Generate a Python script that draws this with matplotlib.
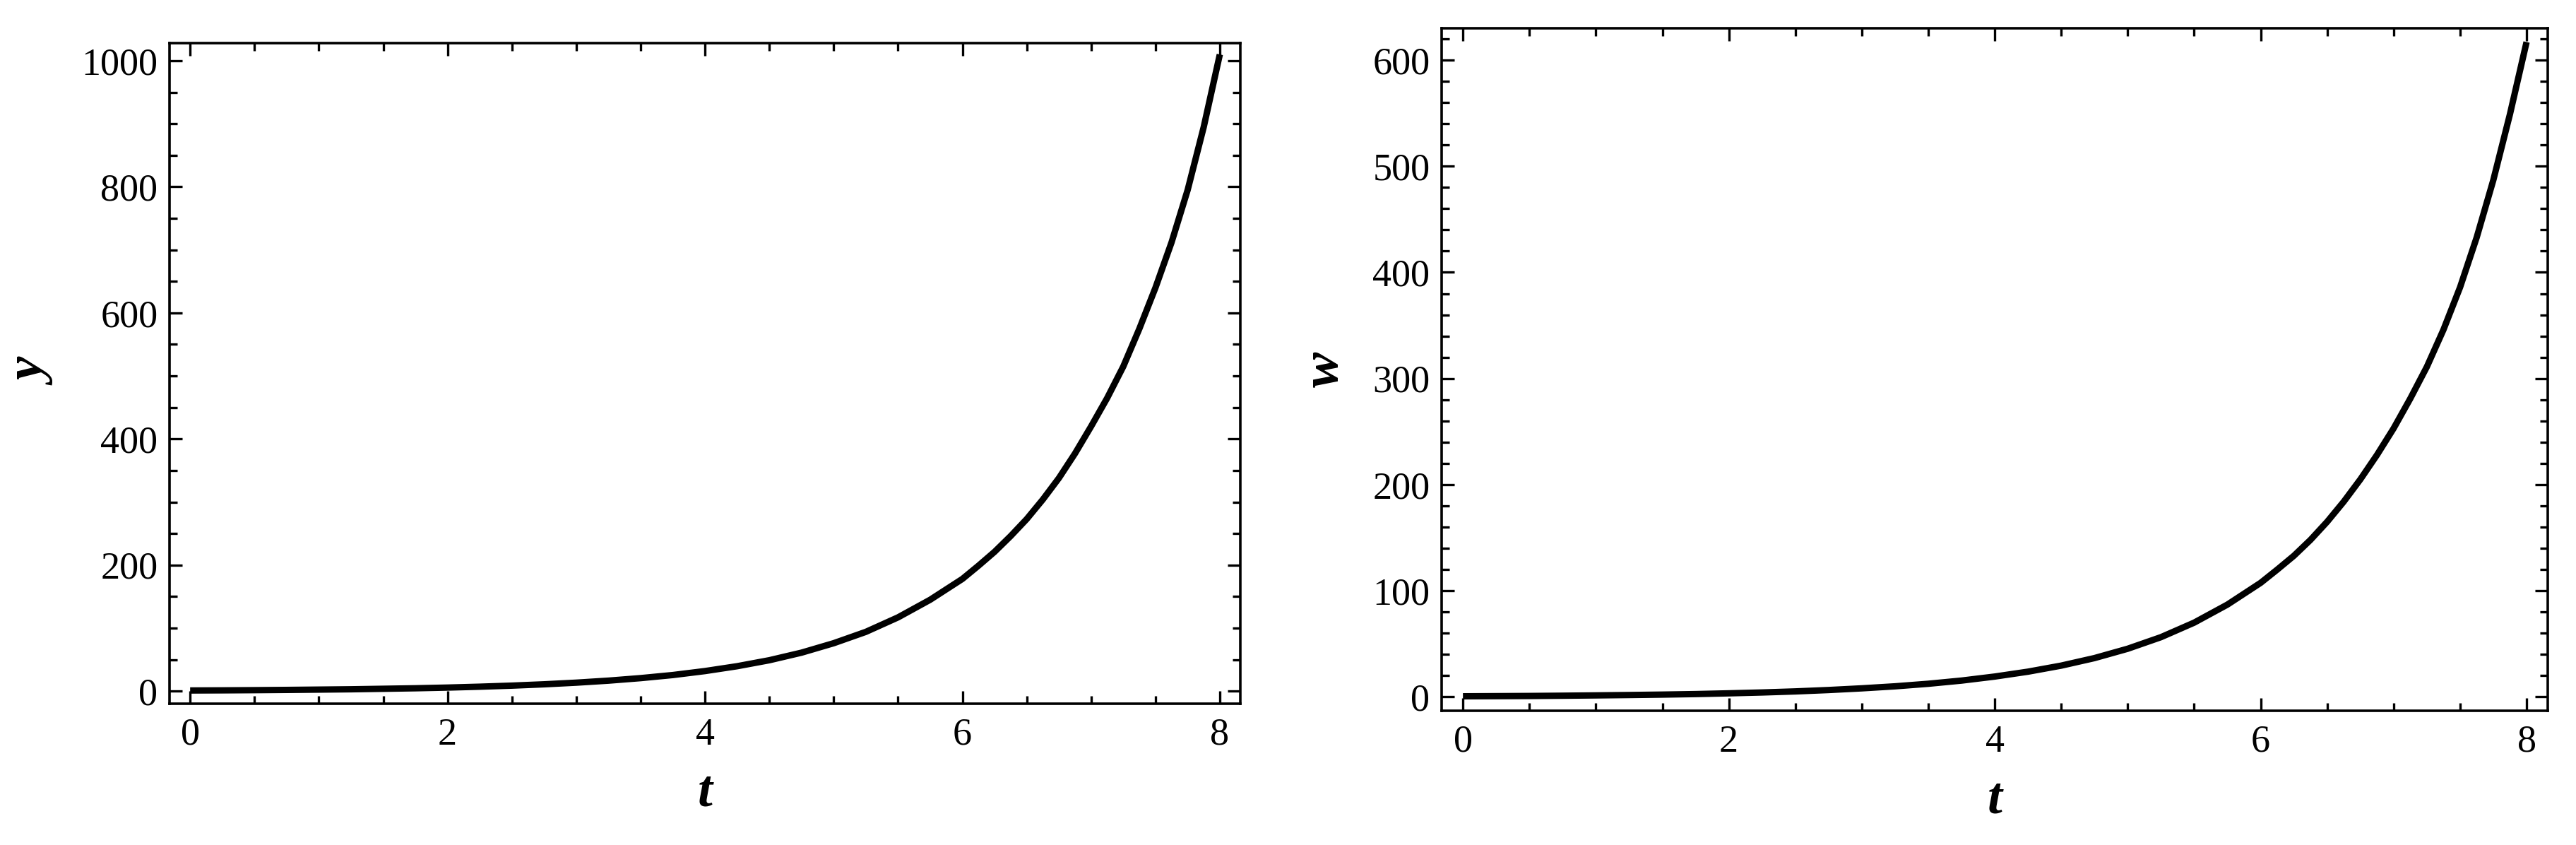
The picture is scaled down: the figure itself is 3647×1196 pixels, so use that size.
import matplotlib
matplotlib.use("Agg")
import matplotlib.pyplot as plt
from matplotlib.ticker import MultipleLocator

# values (finer steps where the curve bends fast)
t = [0, 0.25, 0.5, 0.75, 1, 1.25, 1.5, 1.75, 2, 2.25, 2.5, 2.75, 3, 3.25, 3.5, 3.75,
     4, 4.25, 4.5, 4.75, 5, 5.25, 5.5, 5.75, 6, 6.125, 6.25, 6.375, 6.5, 6.625, 6.75,
     6.875, 7, 7.125, 7.25, 7.375, 7.5, 7.625, 7.75, 7.875, 8]
y = [1.0, 1.2, 1.5, 1.9, 2.4, 2.9, 3.7, 4.5, 5.6, 7.0, 8.7, 10.8, 13.4, 16.6, 20.6, 25.5,
     31.8, 39.5, 49, 61, 76, 94, 117, 145, 178, 199, 221, 246, 273, 304, 338,
     377, 420, 465, 515, 575, 640, 712, 795, 895, 1010]
w = [0.6, 0.75, 0.9, 1.15, 1.45, 1.8, 2.2, 2.7, 3.4, 4.2, 5.2, 6.5, 8.1, 10.0, 12.4, 15.4,
     19.2, 23.8, 29.5, 36.6, 45.4, 56.3, 70, 87, 107.5, 120, 133, 148, 165, 184, 205,
     228, 253, 281, 311, 346, 386, 433, 487, 549, 617]

xticks = [0, 2, 4, 6, 8]
yticks_left = [0, 200, 400, 600, 800, 1000]
yticks_right = [0, 100, 200, 300, 400, 500, 600]

plt.rcParams['font.family'] = ['Liberation Serif', 'DejaVu Serif']

fig = plt.figure(figsize=(36.48, 11.96), dpi=100)
ax1 = fig.add_axes([0.0658, 0.1672, 0.4156, 0.7818])
ax2 = fig.add_axes([0.5595, 0.1589, 0.4293, 0.8077])


def style(ax, vals, yticks, yminor, ylim, ylabel):
    ax.plot(t, vals, color='black', lw=6.5, solid_capstyle='butt',
            solid_joinstyle='round')
    ax.set_xlim(-0.16, 8.16)
    ax.set_ylim(*ylim)
    ax.set_xticks(xticks)
    ax.set_yticks(yticks)
    ax.xaxis.set_minor_locator(MultipleLocator(0.5))
    ax.yaxis.set_minor_locator(MultipleLocator(yminor))
    ax.tick_params(which='both', direction='in', top=True, right=True,
                   labeltop=False, labelright=False, width=2.4, labelsize=39)
    ax.tick_params(which='major', length=13)
    ax.tick_params(which='minor', length=8)
    ax.tick_params(axis='x', pad=14)
    ax.tick_params(axis='y', pad=12)
    for s in ax.spines.values():
        s.set_linewidth(2.6)
    ax.set_xlabel('t', fontsize=54, fontweight='bold', fontstyle='italic', labelpad=16)
    ax.set_ylabel(ylabel, fontsize=54, fontweight='bold', fontstyle='italic', labelpad=24)


style(ax1, y, yticks_left, 50, (-20, 1028), 'y')
style(ax2, w, yticks_right, 20, (-13, 630), 'w')

fig.savefig('out.png', dpi=100)
